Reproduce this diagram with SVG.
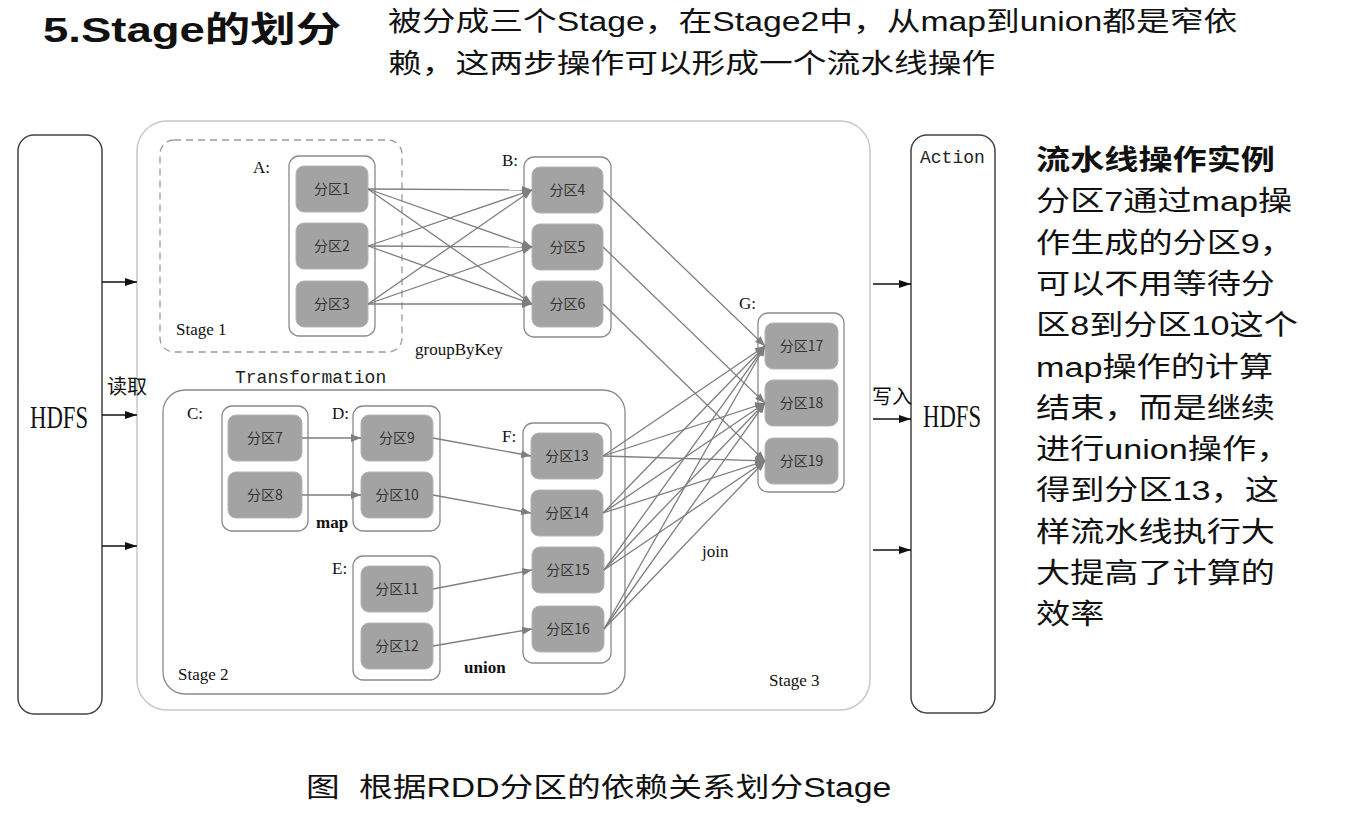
<svg xmlns="http://www.w3.org/2000/svg" width="1364" height="828" viewBox="0 0 1364 828">
<style>
.sans{font-family:"Liberation Sans","Noto Sans CJK SC",sans-serif;fill:#111}
.serif{font-family:"Liberation Serif","Noto Sans CJK SC",serif;fill:#111}
.mono{font-family:"Liberation Mono",monospace;font-size:18px;fill:#222}
.hdfs{fill:#fff;stroke:#444;stroke-width:1.5}
.grp{fill:#fff;stroke:#8a8a8a;stroke-width:1.3}
.part{fill:#a3a3a3;stroke:#b5b5b5;stroke-width:1}
.pt{font-family:"Noto Sans CJK SC","Liberation Serif",serif;font-size:14px;fill:#333;text-anchor:middle}
.lbl{font-family:"Liberation Serif","Noto Sans CJK SC",serif;font-size:17px;fill:#111}
.cn{stroke:#7e7e7e;stroke-width:1.3;fill:none;marker-end:url(#ga)}
.bk{stroke:#111;stroke-width:1.3;fill:none;marker-end:url(#ba)}
</style>
<defs>
<marker id="ga" markerUnits="userSpaceOnUse" markerWidth="10" markerHeight="8" refX="10" refY="4" orient="auto"><path d="M0,0 L10,4 L0,8 z" fill="#7e7e7e"/></marker>
<marker id="ba" markerUnits="userSpaceOnUse" markerWidth="12" markerHeight="8" refX="12" refY="4" orient="auto"><path d="M0,0 L12,4 L0,8 z" fill="#111"/></marker>
</defs>
<rect width="1364" height="828" fill="#fff"/>

<g id="title">
<text class="sans" font-size="35" font-weight="bold" transform="translate(43,42) scale(1.3,1)">5.Stage的划分</text>
<text class="sans" font-size="27" transform="translate(388,31) scale(1.25,1)">被分成三个Stage，在Stage2中，从map到union都是窄依</text>
<text class="sans" font-size="27" transform="translate(388,73) scale(1.25,1)">赖，这两步操作可以形成一个流水线操作</text>
</g>

<g id="stage3">
<rect x="137" y="121" width="733" height="589" rx="30" fill="none" stroke="#c8c8c8" stroke-width="1.5"/>
<text class="lbl" x="769" y="686">Stage 3</text>
<text class="lbl" x="702" y="557">join</text>
</g>

<g id="stage1">
<rect x="160" y="140" width="242" height="212" rx="14" fill="none" stroke="#9a9a9a" stroke-width="1.3" stroke-dasharray="7,5"/>
<text class="lbl" x="176" y="335">Stage 1</text>
<text class="lbl" x="415" y="355">groupByKey</text>
</g>

<g id="stage2">
<rect x="163" y="390" width="462" height="304" rx="22" fill="none" stroke="#8a8a8a" stroke-width="1.3"/>
<text class="mono" x="235" y="383">Transformation</text>
<text class="lbl" x="178" y="680">Stage 2</text>
<text class="lbl" x="316" y="528" font-weight="bold">map</text>
<text class="lbl" x="464" y="673" font-weight="bold">union</text>
</g>

<g id="hdfs-left">
<rect class="hdfs" x="18" y="135" width="84" height="579" rx="16"/>
<text class="serif" x="30" y="428" font-size="32" textLength="58" lengthAdjust="spacingAndGlyphs">HDFS</text>
<text class="sans" x="107" y="394" font-size="20" fill="#333">读取</text>
</g>

<g id="hdfs-right">
<rect class="hdfs" x="911" y="135" width="84" height="578" rx="16"/>
<text class="mono" x="920" y="163">Action</text>
<text class="serif" x="923" y="427" font-size="32" textLength="58" lengthAdjust="spacingAndGlyphs">HDFS</text>
<text class="sans" x="872" y="404" font-size="20" fill="#333">写入</text>
</g>

<g id="rdd-A">
<rect class="grp" x="289" y="156" width="86" height="180" rx="10"/>
<text class="lbl" x="253" y="173">A:</text>
<rect class="part" x="296" y="166" width="72" height="46" rx="8"/><text class="pt" x="332" y="194">分区1</text>
<rect class="part" x="296" y="223" width="72" height="46" rx="8"/><text class="pt" x="332" y="251">分区2</text>
<rect class="part" x="296" y="281" width="72" height="46" rx="8"/><text class="pt" x="332" y="309">分区3</text>
</g>

<g id="rdd-B">
<rect class="grp" x="524" y="157" width="87" height="180" rx="10"/>
<text class="lbl" x="502" y="166">B:</text>
<rect class="part" x="532" y="167" width="71" height="46" rx="8"/><text class="pt" x="567.5" y="195">分区4</text>
<rect class="part" x="532" y="224" width="71" height="46" rx="8"/><text class="pt" x="567.5" y="252">分区5</text>
<rect class="part" x="532" y="281" width="71" height="46" rx="8"/><text class="pt" x="567.5" y="309">分区6</text>
</g>

<g id="rdd-G">
<rect class="grp" x="758" y="313" width="86" height="179" rx="10"/>
<text class="lbl" x="739" y="309">G:</text>
<rect class="part" x="765" y="323" width="73" height="46" rx="8"/><text class="pt" x="801.5" y="351">分区17</text>
<rect class="part" x="765" y="380" width="73" height="46" rx="8"/><text class="pt" x="801.5" y="408">分区18</text>
<rect class="part" x="765" y="438" width="73" height="46" rx="8"/><text class="pt" x="801.5" y="466">分区19</text>
</g>

<g id="rdd-C">
<rect class="grp" x="222" y="406" width="86" height="125" rx="10"/>
<text class="lbl" x="187" y="419">C:</text>
<rect class="part" x="228" y="415" width="74" height="46" rx="8"/><text class="pt" x="265" y="443">分区7</text>
<rect class="part" x="228" y="472" width="74" height="46" rx="8"/><text class="pt" x="265" y="500">分区8</text>
</g>

<g id="rdd-D">
<rect class="grp" x="353" y="406" width="87" height="125" rx="10"/>
<text class="lbl" x="332" y="419">D:</text>
<rect class="part" x="361" y="415" width="72" height="46" rx="8"/><text class="pt" x="397" y="443">分区9</text>
<rect class="part" x="361" y="472" width="72" height="46" rx="8"/><text class="pt" x="397" y="500">分区10</text>
</g>

<g id="rdd-E">
<rect class="grp" x="353" y="556" width="87" height="124" rx="10"/>
<text class="lbl" x="332" y="574">E:</text>
<rect class="part" x="361" y="566" width="72" height="46" rx="8"/><text class="pt" x="397" y="594">分区11</text>
<rect class="part" x="361" y="623" width="72" height="46" rx="8"/><text class="pt" x="397" y="651">分区12</text>
</g>

<g id="rdd-F">
<rect class="grp" x="523" y="423" width="88" height="240" rx="10"/>
<text class="lbl" x="502" y="442">F:</text>
<rect class="part" x="531" y="433" width="72" height="46" rx="8"/><text class="pt" x="567" y="461">分区13</text>
<rect class="part" x="531" y="490" width="72" height="46" rx="8"/><text class="pt" x="567" y="518">分区14</text>
<rect class="part" x="532" y="547" width="72" height="46" rx="8"/><text class="pt" x="568" y="575">分区15</text>
<rect class="part" x="532" y="606" width="72" height="46" rx="8"/><text class="pt" x="568" y="634">分区16</text>
</g>

<g id="connectors">
<path class="bk" d="M102,282 H137"/>
<path class="bk" d="M102,415 H137"/>
<path class="bk" d="M102,546 H137"/>
<path class="bk" d="M873,284 H911"/>
<path class="bk" d="M873,419 H911"/>
<path class="bk" d="M873,550 H911"/>

<path class="cn" d="M368,189 L532,190"/>
<path class="cn" d="M368,189 L532,247"/>
<path class="cn" d="M368,189 L532,304"/>
<path class="cn" d="M368,246 L532,190"/>
<path class="cn" d="M368,246 L532,247"/>
<path class="cn" d="M368,246 L532,304"/>
<path class="cn" d="M368,304 L532,190"/>
<path class="cn" d="M368,304 L532,247"/>
<path class="cn" d="M368,304 L532,304"/>

<path class="cn" d="M603,190 L765,346"/>
<path class="cn" d="M603,247 L765,403"/>
<path class="cn" d="M603,304 L765,461"/>

<path class="cn" d="M302,438 L361,438"/>
<path class="cn" d="M302,495 L361,495"/>
<path class="cn" d="M433,438 L531,456"/>
<path class="cn" d="M433,495 L531,513"/>
<path class="cn" d="M433,589 L532,570"/>
<path class="cn" d="M433,646 L532,629"/>

<path class="cn" d="M603,456 L765,346"/>
<path class="cn" d="M603,456 L765,403"/>
<path class="cn" d="M603,456 L765,461"/>
<path class="cn" d="M603,513 L765,346"/>
<path class="cn" d="M603,513 L765,403"/>
<path class="cn" d="M603,513 L765,461"/>
<path class="cn" d="M604,570 L765,346"/>
<path class="cn" d="M604,570 L765,403"/>
<path class="cn" d="M604,570 L765,461"/>
<path class="cn" d="M604,629 L765,346"/>
<path class="cn" d="M604,629 L765,403"/>
<path class="cn" d="M604,629 L765,461"/>
</g>

<g id="side-note">
<text class="sans" font-size="28" font-weight="bold" transform="translate(1036,170) scale(1.22,1)">流水线操作实例</text>
<text class="sans" font-size="28" transform="translate(1036,211) scale(1.22,1)">分区7通过map操</text>
<text class="sans" font-size="28" transform="translate(1036,253) scale(1.22,1)">作生成的分区9，</text>
<text class="sans" font-size="28" transform="translate(1036,294) scale(1.22,1)">可以不用等待分</text>
<text class="sans" font-size="28" transform="translate(1036,335) scale(1.22,1)">区8到分区10这个</text>
<text class="sans" font-size="28" transform="translate(1036,377) scale(1.22,1)">map操作的计算</text>
<text class="sans" font-size="28" transform="translate(1036,418) scale(1.22,1)">结束，而是继续</text>
<text class="sans" font-size="28" transform="translate(1036,459) scale(1.22,1)">进行union操作，</text>
<text class="sans" font-size="28" transform="translate(1036,500) scale(1.22,1)">得到分区13，这</text>
<text class="sans" font-size="28" transform="translate(1036,542) scale(1.22,1)">样流水线执行大</text>
<text class="sans" font-size="28" transform="translate(1036,583) scale(1.22,1)">大提高了计算的</text>
<text class="sans" font-size="28" transform="translate(1036,624) scale(1.22,1)">效率</text>
</g>

<g id="caption">
<text class="sans" font-size="27" transform="translate(306,797) scale(1.25,1)">图</text>
<text class="sans" font-size="27" transform="translate(359,797) scale(1.25,1)">根据RDD分区的依赖关系划分Stage</text>
</g>
</svg>
